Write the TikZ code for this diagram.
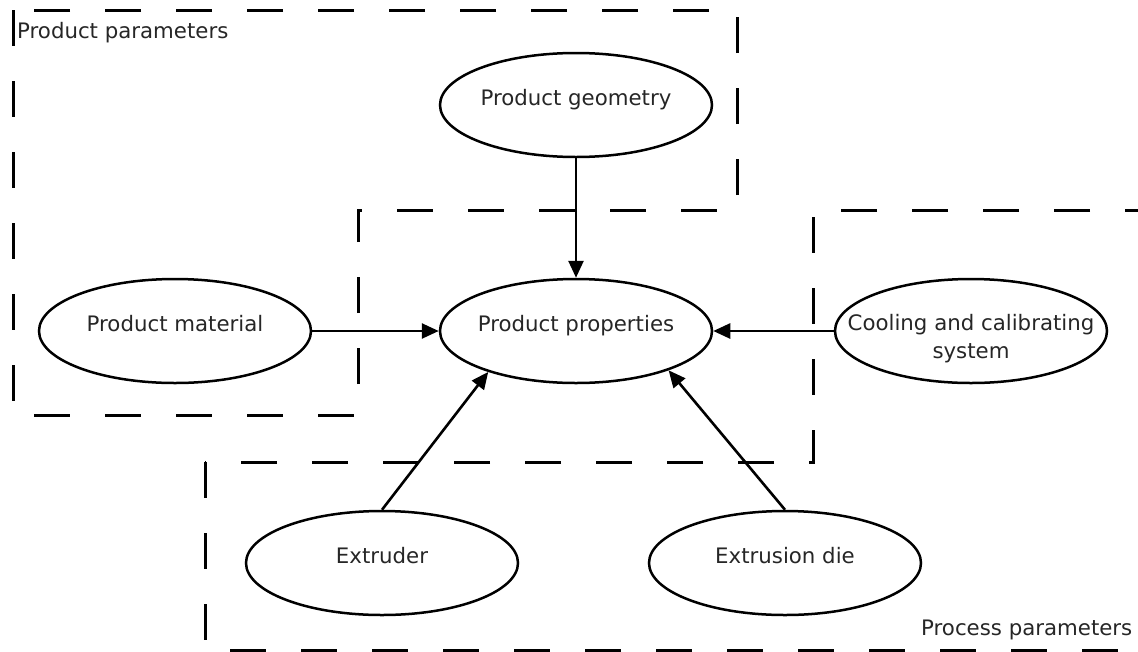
\documentclass[tikz,border=0pt]{standalone}
\usepackage{fontspec}
\setmainfont{DejaVu Sans}
\usepackage{tikz}
\usetikzlibrary{arrows.meta,shapes.geometric}

\begin{document}
\begin{tikzpicture}[x=1pt,y=-1pt,font=\fontsize{21.3}{28}\selectfont,
  pe/.style={ellipse,draw,line width=2.5pt,minimum width=272pt,minimum height=104pt,
    inner xsep=-40pt,inner ysep=0pt,text=black!85,text height=10pt,text depth=10pt},
  zone/.style={line width=3pt,dash pattern=on 36pt off 35pt},
  infl/.style={line width=2.6pt,-{Triangle[length=17pt,width=15pt]}},
  tag/.style={anchor=base west,inner sep=0pt,text=black!85}]
  \useasboundingbox (0,0) rectangle (1138,651);
  \clip (0,0) rectangle (1138,651);
  \draw[zone] (13,10) -- (13,415) -- (358,415) -- (358,210) -- (737,210) -- (737,10) -- cycle;
  \draw[zone] (205,462) -- (205,650) -- (1150,650) -- (1150,210) -- (813,210) -- (813,462) -- cycle;
  \node[tag] (ppar) at (17,38) {Product parameters};
  \node[tag] (prpar) at (921,635) {Process parameters};
  \node[pe] (geo) at (576,105) {Product geometry};
  \node[pe] (mat) at (175,331) {Product material};
  \node[pe] (prop) at (576,331) {Product properties};
  \node[pe,align=center,text height=60pt,text depth=6pt] (cool) at (971,331) {Cooling and calibrating\\system};
  \node[pe] (extr) at (382,563) {Extruder};
  \node[pe] (die) at (785,563) {Extrusion die};
  \draw[infl] (geo) -- (prop);
  \draw[infl] (mat) -- (prop);
  \draw[infl] (cool) -- (prop);
  \draw[infl] (extr.north) -- (prop.205);
  \draw[infl] (die.north) -- (prop.337);
\end{tikzpicture}
\end{document}
